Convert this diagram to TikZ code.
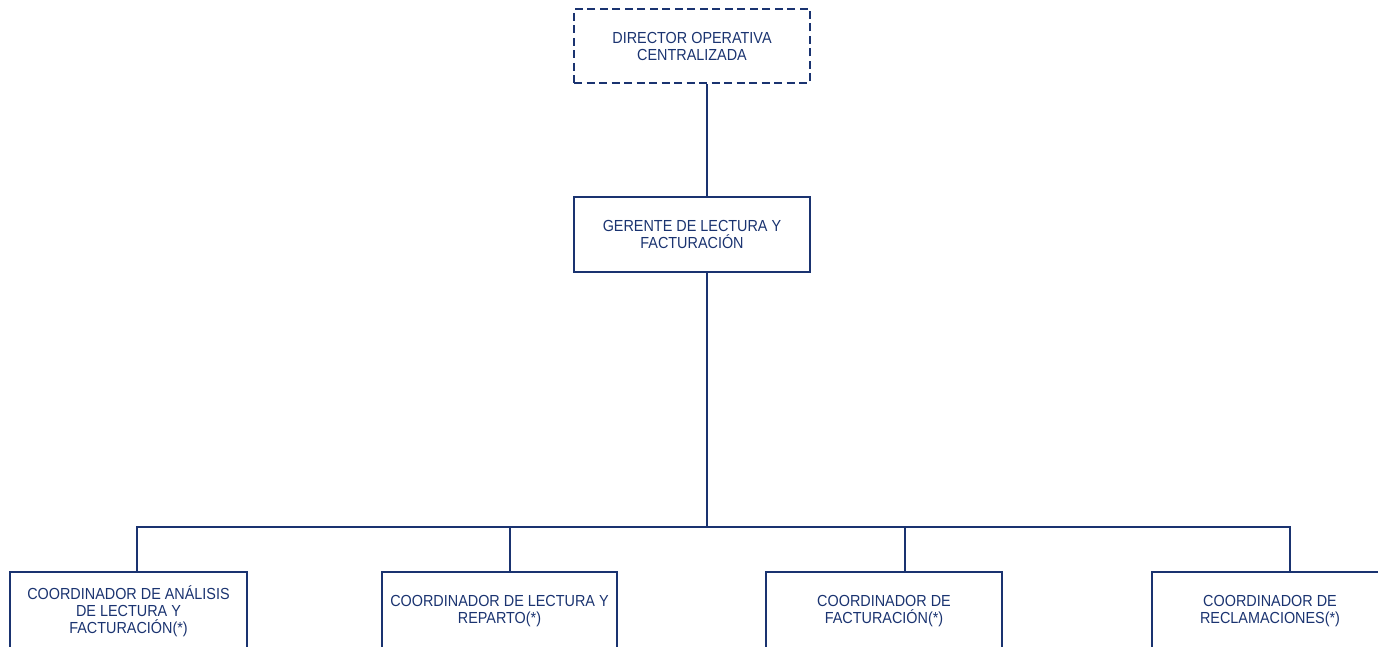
\documentclass[tikz,border=0pt]{standalone}
\usepackage{fontspec}
\setmainfont[FakeStretch=0.9]{Liberation Sans}
\definecolor{navy}{HTML}{1A3370}
\begin{document}
\begin{tikzpicture}[x=1pt,y=-1pt,
  box/.style={draw=navy, line width=2.2pt, text=navy, align=center, inner sep=0pt,
    font=\fontsize{16}{17}\selectfont, minimum width=236pt, minimum height=76pt},
  link/.style={draw=navy, line width=2.2pt}]
\useasboundingbox (0,0) rectangle (1378,647);
\begin{scope}
\clip (0,0) rectangle (1378,647);
\node[box, dash pattern=on 8pt off 4.5pt, minimum height=74pt] (dir) at (692,46) {DIRECTOR OPERATIVA\\CENTRALIZADA};
\node[box, minimum height=75pt] (ger) at (692,234.5) {GERENTE DE LECTURA Y\\FACTURACIÓN};
\node[box, minimum width=237pt, minimum height=78pt] (c1) at (128.5,611) {COORDINADOR DE ANÁLISIS\\DE LECTURA Y\\FACTURACIÓN(*)};
\node[box, minimum width=235pt, minimum height=78pt] (c2) at (499.5,611) {COORDINADOR DE LECTURA Y\\REPARTO(*)};
\node[box, minimum height=78pt] (c3) at (884,611) {COORDINADOR DE\\FACTURACIÓN(*)};
\node[box, minimum height=78pt] (c4) at (1270,611) {COORDINADOR DE\\RECLAMACIONES(*)};
\coordinate (bus) at (707,527);
\draw[link] ([xshift=15pt]dir.south) -- ([xshift=15pt]ger.north);
\draw[link] ([xshift=15pt]ger.south) -- ([yshift=1pt]bus);
\draw[link] ([xshift=8.5pt]c1.north) |- ([xshift=20pt]c4.north |- bus) -- ([xshift=20pt]c4.north);
\draw[link] ([xshift=10.5pt]c2.north) -- ([xshift=10.5pt]c2.north |- bus);
\draw[link] ([xshift=21pt]c3.north) -- ([xshift=21pt]c3.north |- bus);
\end{scope}
\end{tikzpicture}
\end{document}
